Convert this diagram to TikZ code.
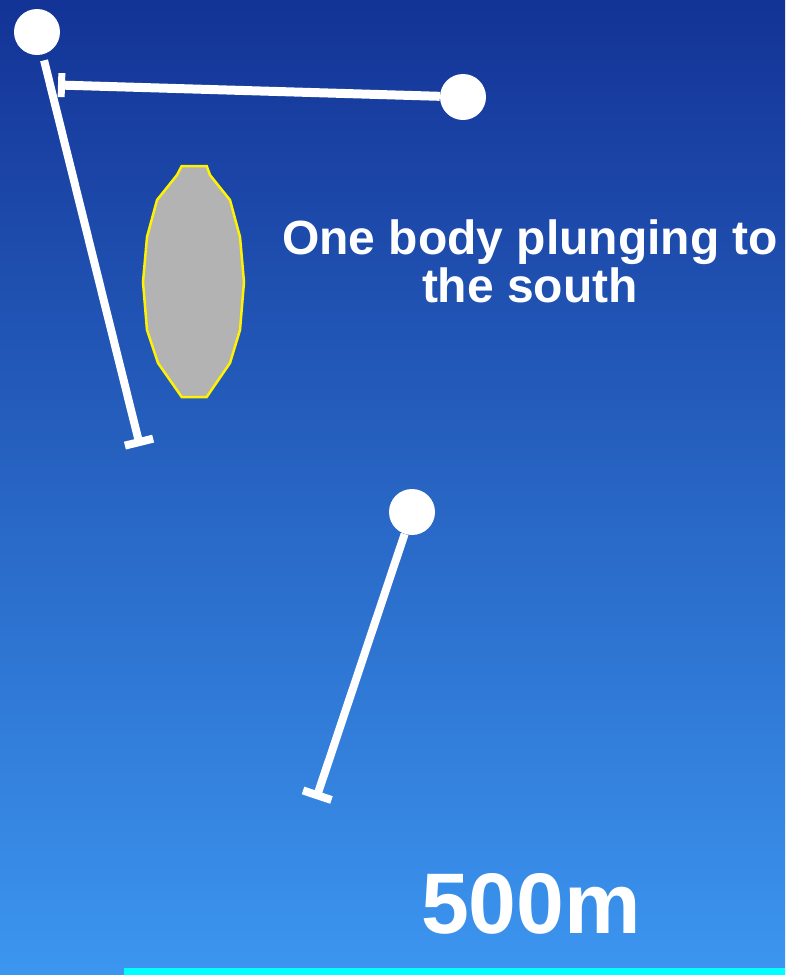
\documentclass[tikz,border=0pt]{standalone}
\usepackage{fontspec}
\setmainfont{Liberation Sans}
\usepackage{tikz}
\usetikzlibrary{arrows.meta}
\definecolor{seatop}{RGB}{19,51,150}
\definecolor{seabot}{RGB}{60,150,240}
\definecolor{bodygray}{RGB}{179,179,179}
\definecolor{scalecyan}{RGB}{0,255,255}

\begin{document}
\begin{tikzpicture}[x=1pt,y=-1pt,
  blob/.style={circle,fill=white,inner sep=0pt,minimum size=46pt},
  trace/.style={white,line width=8pt,-{Bar[width=29pt,line width=8pt]}}]
  \useasboundingbox (0,0) rectangle (785,975);
  % background, dark at the top
  \shade[top color=seatop,bottom color=seabot] (0,0) rectangle (785,975);
  % collars of the holes
  \foreach \name/\px/\py in {h1/37/32, h2/463/97, h3/412/512} {
    \node[blob] (\name) at (\px,\py) {};
  }
  % hole traces, each ending in a bar
  \coordinate (e1) at (140,446);
  \coordinate (e2) at (58,85);
  \coordinate (e3) at (316,799);
  \draw[trace,shorten <=6pt] (h1) -- (e1);
  \draw[trace,line width=9pt,-{Bar[width=24pt,line width=7pt]}] (h2) -- (e2);
  \draw[trace,-{Bar[width=30pt,line width=8pt]}] (h3) -- (e3);
  % the ore body
  \draw[yellow,line width=2.5pt,fill=bodygray]
    (181.7,166) -- (206.7,166) -- (210,175) -- (230,200) -- (240,237)
    -- (244,282) -- (240,330) -- (230,363) -- (206.7,397) -- (181.7,397)
    -- (158,363) -- (147,330) -- (143,282) -- (147,237) -- (157,200)
    -- (177,175) -- cycle;
  % labels
  \node[white,align=center,font=\fontsize{48}{48}\selectfont\bfseries]
    (caption) at (530,261) {One body plunging to\\the south};
  \node[white,font=\fontsize{86}{90}\selectfont\bfseries]
    (scale) at (531,904) {500m};
  % scale strip at the foot
  \fill[scalecyan] (124,968) rectangle (785,975);
\end{tikzpicture}
\end{document}
